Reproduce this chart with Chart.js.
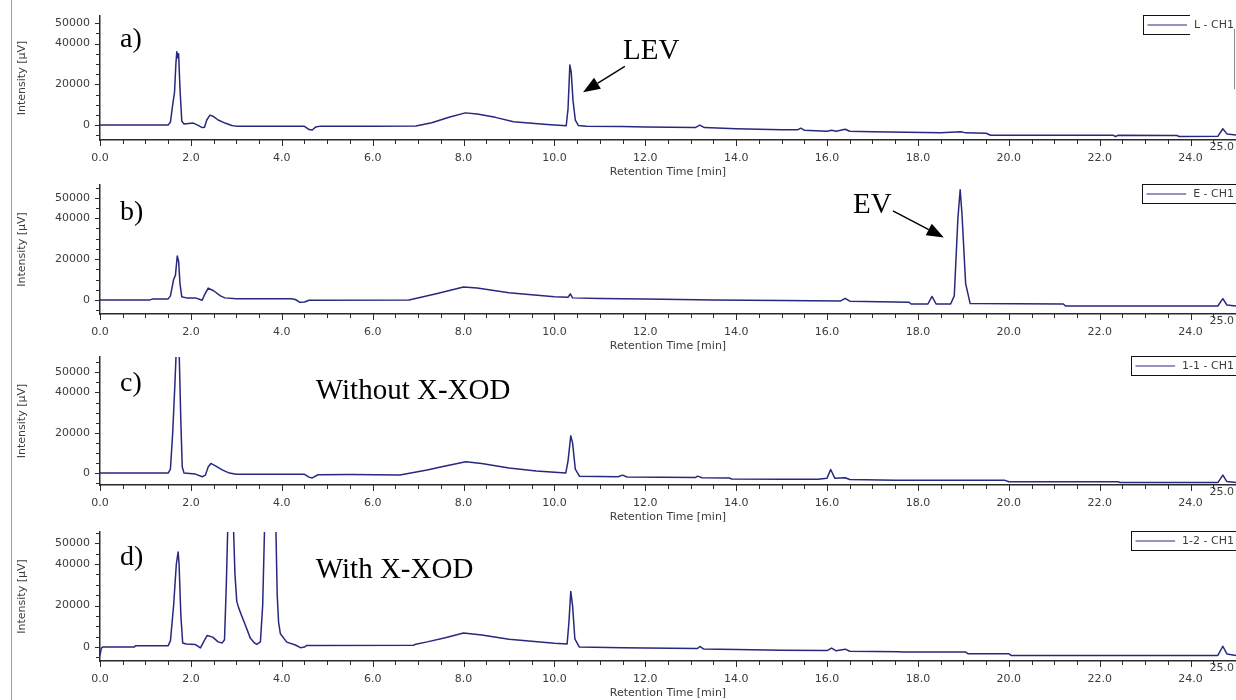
<!DOCTYPE html>
<html>
<head>
<meta charset="utf-8">
<title>HPLC chromatograms</title>
<script src="https://cdn.jsdelivr.net/npm/chart.js@4.4.1/dist/chart.umd.min.js"></script>
<style>
  html, body { margin: 0; padding: 0; background: #fff; }
  body { width: 1236px; height: 700px; position: relative; overflow: hidden; }
  canvas { position: absolute; left: 0; }
  #frameEdge { position: absolute; left: 11px; top: 0; width: 1px; height: 700px; background: #9c9c9c; }
  #strayEdge { position: absolute; left: 1234px; top: 29px; width: 1px; height: 60px; background: #8a8a8a; }
</style>
</head>
<body>
<div id="frameEdge"></div>
<canvas id="chartL" width="1236" height="178" style="top:0px"></canvas>
<canvas id="chartE" width="1236" height="182" style="top:170px"></canvas>
<canvas id="chart11" width="1236" height="181" style="top:342px"></canvas>
<canvas id="chart12" width="1236" height="182" style="top:517px"></canvas>
<div id="strayEdge"></div>
<script>
// [retention time (min), intensity (µV)]
const runL = [
  [0.00, 0], [1.50, 0], [1.55, 1500], [1.60, 10000], [1.64, 16000], [1.67, 30000], [1.69, 36000],
  [1.71, 33000], [1.73, 35000], [1.76, 18000], [1.80, 2000], [1.85, 500], [1.95, 800], [2.05, 1000],
  [2.15, 0], [2.25, -1200], [2.30, -1000], [2.35, 2500], [2.42, 4900], [2.50, 4200], [2.60, 2500],
  [2.75, 1000], [2.90, -200], [3.00, -500], [4.50, -600], [4.60, -2200], [4.67, -2400], [4.75, -900],
  [4.85, -500], [6.00, -500], [6.95, -400], [7.30, 1200], [7.70, 4000], [8.04, 6000], [8.30, 5400],
  [8.70, 3800], [9.10, 1600], [9.84, 300], [10.26, -300], [10.30, 8000], [10.34, 29500], [10.37, 26000],
  [10.41, 12000], [10.46, 2500], [10.53, -200], [10.70, -600], [11.50, -700], [12.00, -900],
  [13.10, -1200], [13.20, 0], [13.30, -1200], [14.00, -1800], [15.00, -2300], [15.35, -2300],
  [15.42, -1500], [15.50, -2500], [16.00, -3000], [16.10, -2500], [16.20, -3000], [16.40, -2000],
  [16.50, -3000], [17.00, -3300], [18.50, -3800], [18.95, -3300], [19.05, -3800], [19.50, -4000],
  [19.60, -5000], [22.30, -5000], [22.35, -5600], [22.40, -5000], [23.70, -5100], [23.75, -5600],
  [24.60, -5500], [24.71, -1800], [24.80, -4300], [25.00, -4800]
];
const runE = [
  [0.00, 0], [1.10, 0], [1.15, 400], [1.50, 500], [1.55, 2000], [1.62, 10000], [1.66, 12000],
  [1.70, 21500], [1.73, 19000], [1.76, 8000], [1.80, 1500], [1.90, 1000], [2.10, 1000], [2.20, 200],
  [2.25, -200], [2.30, 2500], [2.38, 5800], [2.50, 4500], [2.65, 2000], [2.75, 1000], [3.00, 600],
  [4.20, 600], [4.30, 200], [4.40, -1200], [4.50, -1000], [4.60, -200], [6.80, 0], [7.40, 3000],
  [8.00, 6300], [8.30, 5800], [9.00, 3500], [10.00, 1500], [10.30, 1300], [10.35, 3000], [10.40, 1000],
  [11.00, 700], [12.00, 500], [13.50, 0], [15.00, -300], [16.30, -500], [16.40, 800], [16.50, -600],
  [17.80, -1100], [17.85, -2000], [18.22, -2000], [18.31, 1700], [18.40, -2000], [18.72, -2000],
  [18.80, 2000], [18.88, 40000], [18.93, 54000], [18.97, 42000], [19.05, 8000], [19.15, -1800],
  [21.20, -2000], [21.25, -3000], [24.60, -3000], [24.71, 600], [24.80, -2500], [25.00, -3000]
];
const run11 = [
  [0.00, 0], [1.50, 0], [1.55, 2000], [1.60, 20000], [1.65, 45000], [1.68, 62000], [1.74, 62000],
  [1.78, 25000], [1.81, 3000], [1.85, 0], [2.10, -500], [2.25, -1800], [2.32, -1000], [2.38, 3000],
  [2.44, 4800], [2.55, 3500], [2.70, 1500], [2.85, 0], [3.00, -600], [4.50, -600], [4.60, -2000],
  [4.67, -2400], [4.80, -800], [5.50, -700], [6.60, -900], [7.20, 1500], [7.60, 3500], [8.05, 5600],
  [8.40, 4800], [9.00, 2500], [9.60, 1000], [10.25, 0], [10.30, 6000], [10.36, 18500], [10.40, 15000],
  [10.46, 2000], [10.55, -1500], [11.40, -1800], [11.50, -1000], [11.60, -1900], [13.10, -2200],
  [13.15, -1500], [13.25, -2300], [13.85, -2400], [13.90, -2900], [15.00, -3000], [15.80, -3000],
  [16.00, -2500], [16.08, 1800], [16.17, -2500], [16.40, -2300], [16.50, -3200], [17.50, -3500],
  [19.90, -3500], [20.00, -4300], [22.40, -4300], [22.45, -4700], [24.60, -4700], [24.71, -1000],
  [24.80, -4200], [25.00, -4700]
];
const run12 = [
  [0.00, -4000], [0.03, -500], [0.06, 0], [0.75, 0], [0.78, 600], [1.50, 700], [1.55, 3000],
  [1.62, 20000], [1.68, 40000], [1.72, 45800], [1.74, 40000], [1.78, 15000], [1.82, 2000],
  [1.90, 1500], [2.10, 1200], [2.21, -400], [2.28, 2500], [2.36, 5600], [2.48, 4800], [2.60, 2500],
  [2.69, 2000], [2.74, 3500], [2.78, 30000], [2.81, 56000], [2.87, 90000], [2.94, 56000],
  [2.97, 35000], [3.01, 22000], [3.05, 19000], [3.12, 15000], [3.20, 10500], [3.31, 4200],
  [3.40, 2000], [3.45, 1300], [3.53, 2500], [3.58, 20000], [3.62, 56000], [3.75, 120000],
  [3.87, 58000], [3.90, 25000], [3.93, 12000], [3.97, 6400], [4.11, 2400], [4.30, 1000],
  [4.41, -300], [4.50, 0], [4.55, 800], [6.90, 900], [6.95, 1400], [7.20, 2500], [7.60, 4500],
  [8.00, 6800], [8.40, 5800], [9.00, 3800], [10.00, 1800], [10.28, 1500], [10.32, 12000],
  [10.36, 26800], [10.40, 20000], [10.45, 4000], [10.55, 0], [11.50, -300], [12.00, -500],
  [13.15, -700], [13.20, 300], [13.28, -900], [14.00, -1200], [15.00, -1500], [16.00, -1700],
  [16.10, -500], [16.20, -1800], [16.40, -1000], [16.50, -2000], [17.60, -2200], [17.65, -2400],
  [19.05, -2400], [19.10, -3200], [20.00, -3200], [20.05, -4000], [24.60, -4000], [24.71, 400],
  [24.80, -3300], [25.00, -4000]
];

const runNames = ['L - CH1', 'E - CH1', '1-1 - CH1', '1-2 - CH1'];
const panelTags = ['a)', 'b)', 'c)', 'd)'];
const yLabelValues = [0, 20000, 40000, 50000];
const xMajorStep = 2;
const xMinorStep = 0.5;
const yMinorStep = 5000;
const timeRange = [0, 25];

const AXIS_FONT = { family: 'DejaVu Sans', size: 11 };
const AXIS_TEXT = '#3c3c3c';
const TRACE = '#28287f';
const SERIF = 'Liberation Serif';

// peak callouts, placed in data units of each panel
const panels = [
  { canvas: 'chartL', run: runL, padTop: 16, yMin: -7300, yMax: 53500, tagValue: 38100, openLegend: true,
    notes: [{ text: 'LEV', t: 11.51, v: 32300 }],
    arrows: [{ from: [11.55, 28800], to: [10.63, 16100] }] },
  { canvas: 'chartE', run: runE, padTop: 15, yMin: -6900, yMax: 56300, tagValue: 39200,
    notes: [{ text: 'EV', t: 16.57, v: 42600 }],
    arrows: [{ from: [17.45, 43600], to: [18.57, 30600] }] },
  { canvas: 'chart11', run: run11, padTop: 15, yMin: -5900, yMax: 57600, tagValue: 40600,
    notes: [{ text: 'Without X-XOD', t: 4.75, v: 36600 }], arrows: [] },
  { canvas: 'chart12', run: run12, padTop: 15, yMin: -6700, yMax: 55400, tagValue: 39400,
    notes: [{ text: 'With X-XOD', t: 4.75, v: 33100 }], arrows: [] }
];

function stepTicks(min, max, step) {
  const out = [];
  for (let v = Math.ceil(min / step) * step; v <= max + 1e-9; v += step) {
    out.push({ value: Math.round(v * 100) / 100 });
  }
  return out;
}

// tick marks, end label, tags, callouts and the legend box
const chromDecor = {
  id: 'chromDecor',
  afterDraw(chart, args, opts) {
    const ctx = chart.ctx;
    const xs = chart.scales.x, ys = chart.scales.y;
    const area = chart.chartArea;
    ctx.save();

    ctx.strokeStyle = '#2b2b2b';
    ctx.lineWidth = 1;
    ctx.beginPath();
    xs.ticks.forEach(t => {
      const px = Math.round(xs.getPixelForValue(t.value)) + 0.5;
      const len = t.value % xMajorStep === 0 ? 6 : 4;
      ctx.moveTo(px, area.bottom);
      ctx.lineTo(px, area.bottom + len);
    });
    ys.ticks.forEach(t => {
      const py = Math.round(ys.getPixelForValue(t.value)) + 0.5;
      const len = yLabelValues.includes(t.value) ? 5 : 4;
      ctx.moveTo(area.left, py);
      ctx.lineTo(area.left - len, py);
    });
    ctx.stroke();

    // raised label at the end of the time axis
    ctx.font = '11px "DejaVu Sans"';
    ctx.fillStyle = AXIS_TEXT;
    ctx.textAlign = 'right';
    ctx.textBaseline = 'middle';
    ctx.fillText(timeRange[1].toFixed(1), chart.width - 2, area.bottom + 7);

    // panel tag
    ctx.fillStyle = '#000';
    ctx.textAlign = 'left';
    ctx.textBaseline = 'alphabetic';
    ctx.font = '28px "' + SERIF + '"';
    ctx.fillText(opts.tag, area.left + 20, ys.getPixelForValue(opts.tagValue));

    ctx.font = '29px "' + SERIF + '"';
    opts.notes.forEach(n => {
      ctx.fillText(n.text, xs.getPixelForValue(n.t), ys.getPixelForValue(n.v));
    });

    opts.arrows.forEach(a => {
      const x0 = xs.getPixelForValue(a.from[0]), y0 = ys.getPixelForValue(a.from[1]);
      const x1 = xs.getPixelForValue(a.to[0]), y1 = ys.getPixelForValue(a.to[1]);
      const ang = Math.atan2(y1 - y0, x1 - x0);
      const head = 17, half = 6.5;
      const bx = x1 - head * Math.cos(ang), by = y1 - head * Math.sin(ang);
      ctx.strokeStyle = '#000';
      ctx.lineWidth = 1.4;
      ctx.beginPath();
      ctx.moveTo(x0, y0);
      ctx.lineTo(bx, by);
      ctx.stroke();
      ctx.fillStyle = '#000';
      ctx.beginPath();
      ctx.moveTo(x1, y1);
      ctx.lineTo(bx + half * Math.sin(ang), by - half * Math.cos(ang));
      ctx.lineTo(bx - half * Math.sin(ang), by + half * Math.cos(ang));
      ctx.closePath();
      ctx.fill();
    });

    // legend box, cut by the right edge
    ctx.font = '11px "DejaVu Sans"';
    const tw = ctx.measureText(opts.legend).width;
    const textX = chart.width - 2 - tw;
    const boxL = Math.round(textX - 51) + 0.5;
    const boxT = Math.round(area.top - 1) + 0.5;
    const boxH = 19;
    const midY = boxT + boxH / 2;
    ctx.strokeStyle = '#111';
    ctx.lineWidth = 1;
    ctx.strokeRect(boxL, boxT, chart.width + 10 - boxL, boxH);
    if (opts.openLegend) {
      // label sits on a white patch that hides the box edges
      ctx.fillStyle = '#fff';
      ctx.fillRect(textX - 4, boxT - 1, chart.width - textX + 4, boxH + 2);
    }
    ctx.strokeStyle = TRACE;
    ctx.lineWidth = 1.2;
    ctx.beginPath();
    ctx.moveTo(boxL + 4, midY);
    ctx.lineTo(textX - 7, midY);
    ctx.stroke();
    ctx.fillStyle = AXIS_TEXT;
    ctx.textBaseline = 'middle';
    ctx.fillText(opts.legend, textX, midY + 0.5);

    ctx.restore();
  }
};

panels.forEach((p, i) => {
  const ctx = document.getElementById(p.canvas).getContext('2d');
  new Chart(ctx, {
    type: 'line',
    data: {
      datasets: [{
        label: runNames[i],
        data: p.run.map(([t, v]) => ({ x: t, y: v })),
        borderColor: TRACE,
        borderWidth: 1.5,
        borderJoinStyle: 'round',
        pointRadius: 0,
        tension: 0,
        fill: false
      }]
    },
    options: {
      responsive: false,
      animation: false,
      layout: { padding: { top: p.padTop, left: 0, right: 0, bottom: 0 } },
      plugins: {
        legend: { display: false },
        tooltip: { enabled: false },
        chromDecor: {
          tag: panelTags[i],
          tagValue: p.tagValue,
          legend: runNames[i],
          openLegend: !!p.openLegend,
          notes: p.notes,
          arrows: p.arrows
        }
      },
      scales: {
        x: {
          type: 'linear',
          min: timeRange[0],
          max: timeRange[1],
          grid: { display: false },
          border: { display: true, color: '#2b2b2b', width: 1.5 },
          afterBuildTicks: s => { s.ticks = stepTicks(timeRange[0], timeRange[1], xMinorStep); },
          afterFit: s => { s.height = 38; s.paddingLeft = 0; s.paddingRight = 0; },
          ticks: {
            autoSkip: false,
            maxRotation: 0,
            padding: 4,
            color: AXIS_TEXT,
            font: AXIS_FONT,
            callback: v => (v % xMajorStep === 0 && v < timeRange[1]) ? v.toFixed(1) : ''
          },
          title: {
            display: true,
            text: 'Retention Time [min]',
            color: AXIS_TEXT,
            font: AXIS_FONT,
            padding: { top: 0, bottom: -1 }
          }
        },
        y: {
          min: p.yMin,
          max: p.yMax,
          grid: { display: false },
          border: { display: true, color: '#2b2b2b', width: 1.5 },
          afterBuildTicks: s => { s.ticks = stepTicks(p.yMin, p.yMax, yMinorStep); },
          afterFit: s => { s.width = 100; },
          ticks: {
            autoSkip: false,
            padding: 2,
            color: AXIS_TEXT,
            font: AXIS_FONT,
            callback: v => yLabelValues.includes(v) ? String(v) : ''
          },
          title: {
            display: true,
            text: 'Intensity [µV]',
            color: AXIS_TEXT,
            font: AXIS_FONT,
            padding: { top: 16, bottom: 0 }
          }
        }
      }
    },
    plugins: [chromDecor]
  });
});
</script>
</body>
</html>
